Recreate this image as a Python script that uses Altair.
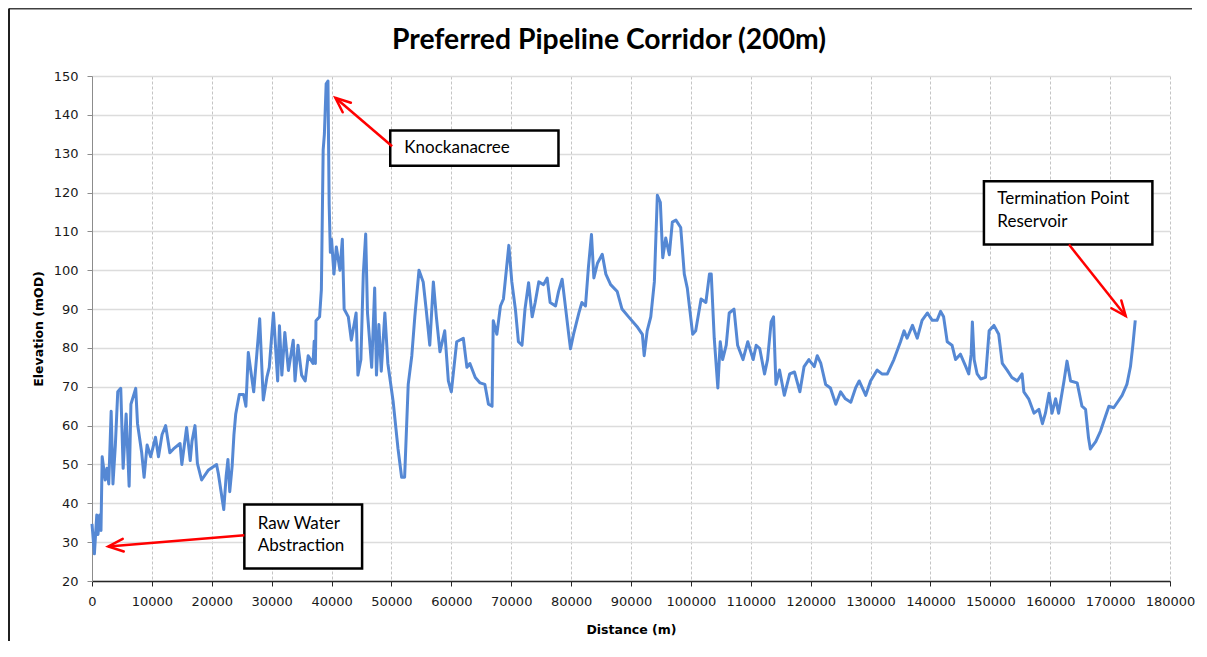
import math
import altair as alt
import pandas as pd

# ---- profile data (distance in m, elevation in mOD) ----
distance = [
    0, 400, 800, 1000, 1300, 1500, 1700, 2200, 2500, 2800, 3200, 3500, 3900, 4300, 4800,
    5200, 5700, 6200, 6500, 7300, 7600, 8300, 8700, 9200, 9800, 10600, 11100, 11700, 12300,
    13000, 13600, 14700, 15000, 15800, 16400, 16700, 17200, 17600, 18300, 19400, 20800,
    21100, 22000, 22400, 22700, 23000, 23400, 23700, 24000, 24600, 25300, 25700, 26100,
    27000, 27500, 28000, 28600, 29200, 29600, 30300, 31000, 31300, 31700, 32200, 32800,
    33600, 33900, 34400, 35000, 35600, 36100, 36900, 37100, 37300, 37400, 38000, 38300,
    38600, 38800, 39100, 39400, 39600, 39800, 40000, 40400, 40800, 41400, 41800, 42100,
    42800, 43300, 44100, 44400, 44900, 45300, 45700, 46000, 46700, 47200, 47500, 47900,
    48300, 48900, 49400, 50300, 51100, 51700, 52200, 52800, 53400, 53900, 54600, 55300,
    55800, 56400, 57000, 57500, 58100, 58900, 59500, 60000, 60900, 62000, 62600, 63100,
    64000, 64800, 65600, 66200, 66800, 67000, 67600, 68200, 68700, 69600, 70100, 70700,
    71200, 71800, 72300, 72900, 73500, 74000, 74600, 75400, 76000, 76500, 77400, 77900,
    78500, 79100, 79600, 79900, 80400, 81300, 81800, 82400, 82900, 83400, 83800, 84400,
    85200, 85800, 86600, 87700, 88500, 89600, 91100, 91900, 92200, 92700, 93300, 93900,
    94400, 94900, 95300, 95800, 96400, 96900, 97500, 98300, 98900, 99400, 100300, 100800,
    101700, 102500, 103100, 103400, 103900, 104500, 104900, 105300, 105900, 106400,
    107200, 107800, 108700, 109500, 110400, 110900, 111500, 112300, 112800, 113400,
    113800, 114200, 114800, 115600, 116500, 117300, 118200, 118900, 119700, 120600,
    121100, 121700, 122500, 123300, 124200, 125000, 125800, 126700, 127500, 128100,
    129200, 130000, 131100, 131900, 132800, 133900, 135000, 135600, 136100, 137000,
    137800, 138600, 139500, 140300, 141100, 141700, 142200, 142800, 143600, 144200,
    145000, 145900, 146400, 146800, 147000, 147300, 147800, 148400, 149200, 149800,
    150600, 151400, 152000, 152800, 153600, 154500, 155300, 155600, 156400, 157300,
    158100, 158700, 159200, 159800, 160300, 160900, 161400, 162300, 162800, 163400,
    164500, 165300, 165900, 166400, 166700, 167600, 168400, 169200, 169800, 170600,
    171400, 172000, 172800, 173400, 173800, 174200,
]
elevation = [
    34.7, 27, 37, 32, 37, 33, 52, 46, 49, 45, 63.7, 45, 55, 68.7, 69.6,
    49, 63, 44.4, 65.5, 69.6, 60.5, 53, 46.7, 55, 52, 57, 52, 57.7, 60,
    53, 54, 55.4, 50, 59.5, 51, 56, 60, 50.3, 46, 48.5, 50,
    47.6, 38.4, 47, 51.3, 43, 49.6, 57.7, 63, 68, 68, 65, 78.8,
    68.7, 78, 87.5, 66.6, 72.4, 75, 89, 71.5, 85.7, 73, 84, 74.2,
    82, 71.5, 80.7, 73, 71.5, 78, 76, 81.7, 76, 87, 88, 95,
    131, 135, 148, 148.7, 117, 104.6, 108, 99, 106, 100, 108, 90,
    88, 82, 89, 73, 77, 99, 109.3, 89, 75, 95.4, 73, 86,
    74, 89, 76, 66, 54, 46.7, 46.7, 70.6, 78, 88, 100, 97,
    89.9, 80.7, 97, 88, 79, 84.4, 71.5, 68.7, 81.6, 82.5, 75, 76,
    72.4, 71, 70.6, 65.5, 65, 87, 83.5, 90.8, 92.6, 106.4, 97, 89.9,
    81.6, 80.7, 90, 96.8, 88, 91.7, 97, 96.3, 98, 91.7, 90.8, 94.5,
    97.7, 90, 83.5, 79.8, 83.5, 89, 91.7, 90.8, 100.9, 109.2, 98, 101.8,
    104.1, 99, 96.3, 94.5, 90, 88, 85.3, 83.5, 78, 84.4, 88, 97,
    119.3, 117.5, 103.2, 108.3, 104, 112.4, 112.9, 111, 99, 95.4, 83.5, 84.4,
    92.6, 91.7, 99, 99, 82.5, 69.7, 81.6, 77, 80.7, 89,
    90, 80.7, 77, 81.6, 77, 80.7, 79.8, 73.3, 77, 86.7,
    88, 70.6, 74.3, 67.8, 73.3, 73.8, 68.7, 75.2, 77, 75.2,
    78, 76, 70.6, 69.7, 65.5, 68.7, 66.9, 66, 69.7, 71.5,
    67.8, 71.5, 74.3, 73.3, 73.3, 77, 81.6, 84.4, 82.5, 85.8,
    82.5, 87.1, 89, 87.1, 87.1, 89.4, 88, 81.6, 80.7, 77,
    78.4, 75.2, 73.3, 78.4, 86.7, 77, 73.3, 72, 72.4, 84.4,
    85.8, 83.5, 76, 74.3, 72.4, 71.5, 73.3, 68.7, 66.9, 63.2,
    64.2, 60.5, 63.2, 68.3, 63.2, 66.9, 63.2, 71.5, 76.6, 71.5,
    71, 65, 64.2, 56.8, 54, 55.9, 58.6, 62.3, 65, 64.6,
    66.4, 67.8, 70.6, 75.2, 80.7, 87.1,
]

x_ticks = [0, 10000, 20000, 30000, 40000, 50000, 60000, 70000, 80000, 90000, 100000,
           110000, 120000, 130000, 140000, 150000, 160000, 170000, 180000]
y_ticks = [20, 30, 40, 50, 60, 70, 80, 90, 100, 110, 120, 130, 140, 150]

chart_title = "Preferred Pipeline Corridor (200m)"

# ---- annotations (data coordinates) ----
box_x1 = [49800, 25440, 148930]
box_x2 = [77890, 45100, 177060]
box_y1 = [136.0, 39.7, 122.9]
box_y2 = [126.9, 23.2, 106.6]

label_text = ["Knockanacree", "Raw Water", "Abstraction", "Termination Point", "Reservoir"]
label_x = [52150, 27660, 27660, 151170, 151170]
label_y = [131.4, 34.8, 29.1, 118.4, 112.4]

arrow_x1 = [50110, 25440, 163130]
arrow_y1 = [131.9, 31.8, 106.6]
arrow_x2 = [40640, 2720, 172600]
arrow_y2 = [144.4, 28.9, 88.2]

W, H = 1078, 505
X_DOM = [0, 180000]
Y_DOM = [20, 150]

df = pd.DataFrame({"distance": distance, "elevation": elevation})
boxes = pd.DataFrame({"distance": box_x1, "distance2": box_x2,
                      "elevation": box_y1, "elevation2": box_y2})
labels = pd.DataFrame({"distance": label_x, "elevation": label_y, "t": label_text})


def head_angle(x1, y1, x2, y2):
    dx = (x2 - x1) / (X_DOM[1] - X_DOM[0]) * W
    dy = -(y2 - y1) / (Y_DOM[1] - Y_DOM[0]) * H
    return math.degrees(math.atan2(dx, -dy)) % 360


arrows = pd.DataFrame({
    "distance": arrow_x1, "elevation": arrow_y1, "distance2": arrow_x2, "elevation2": arrow_y2,
})
heads = pd.DataFrame({
    "distance": arrow_x2, "elevation": arrow_y2,
    "ang": [head_angle(a, b, c, d) for a, b, c, d in zip(arrow_x1, arrow_y1, arrow_x2, arrow_y2)],
})

xs = alt.Scale(domain=X_DOM, nice=False, zero=False)
ys = alt.Scale(domain=Y_DOM, nice=False, zero=False)
x_axis = alt.Axis(values=x_ticks, format="d", title="Distance (m)",
                  titleX=W / 2, titleY=48, titleBaseline="middle")
y_axis = alt.Axis(values=y_ticks, format="d", title="Elevation (mOD)",
                  titleX=-54, titleY=H / 2, titleBaseline="middle", titleAlign="center")


def X(field):
    return alt.X(field, scale=xs, axis=x_axis)


def Y(field):
    return alt.Y(field, scale=ys, axis=y_axis)


one = pd.DataFrame({"a": [0]})
frame_top = alt.Chart(one).mark_rule(color="#404040", strokeWidth=2).encode(
    x=alt.value(-83), x2=alt.value(1100), y=alt.value(-67.5))
frame_left = alt.Chart(one).mark_rule(color="#202020", strokeWidth=2).encode(
    x=alt.value(-83), y=alt.value(-67.5), y2=alt.value(565))

title_layer = alt.Chart(one).mark_text(
    text=chart_title, font="Lato", fontSize=28.3, fontWeight="bold", color="black",
    align="center", baseline="alphabetic"
).encode(x=alt.value(517), y=alt.value(-27.5))

line = alt.Chart(df).mark_line(color="#5588d4", strokeWidth=3, strokeJoin="round").encode(
    x=X("distance:Q"), y=Y("elevation:Q"))

box_layer = alt.Chart(boxes).mark_rect(fill="white", stroke="black", strokeWidth=2.5).encode(
    x=X("distance:Q"), x2="distance2:Q", y=Y("elevation:Q"), y2="elevation2:Q")

text_layer = alt.Chart(labels).mark_text(
    align="left", baseline="middle", font="Lato", fontSize=17, color="black"
).encode(x=X("distance:Q"), y=Y("elevation:Q"), text="t:N")

shaft = alt.Chart(arrows).mark_rule(color="#ff0000", strokeWidth=2.5).encode(
    x=X("distance:Q"), y=Y("elevation:Q"), x2="distance2:Q", y2="elevation2:Q")

head = alt.Chart(heads).mark_point(
    shape="M-0.42,1L0,0L0.42,1", filled=False, color="#ff0000", strokeWidth=2.5,
    size=900, opacity=1, strokeJoin="miter", strokeCap="round"
).encode(x=X("distance:Q"), y=Y("elevation:Q"), angle=alt.Angle("ang:Q", scale=None))

chart = alt.layer(
    line, frame_top, frame_left, title_layer, box_layer, text_layer, shaft, head
).properties(
    width=W, height=H,
    autosize=alt.AutoSizeParams(type="none"),
    padding={"left": 84, "top": 68, "right": 29, "bottom": 62},
    background="white",
).configure_view(stroke=None).configure_axis(
    labelFont="DejaVu Sans", labelFontSize=13, labelColor="#1a1a1a",
    titleFont="DejaVu Sans", titleFontSize=12.5, titleFontWeight="bold", titleColor="black",
    tickSize=5, labelPadding=9, labelFlush=False, labelOverlap=False, labelBound=False,
).configure_axisX(
    gridColor="#c4c4c4", gridDash=[3, 2], gridWidth=1,
    domainColor="#262626", tickColor="#262626", domainWidth=1.3,
).configure_axisY(
    gridColor="#dcdcdc", gridWidth=1.3, domainColor="#8c8c8c", tickColor="#8c8c8c",
)

chart.save("out.html", embed_options={"renderer": "svg", "actions": False})
